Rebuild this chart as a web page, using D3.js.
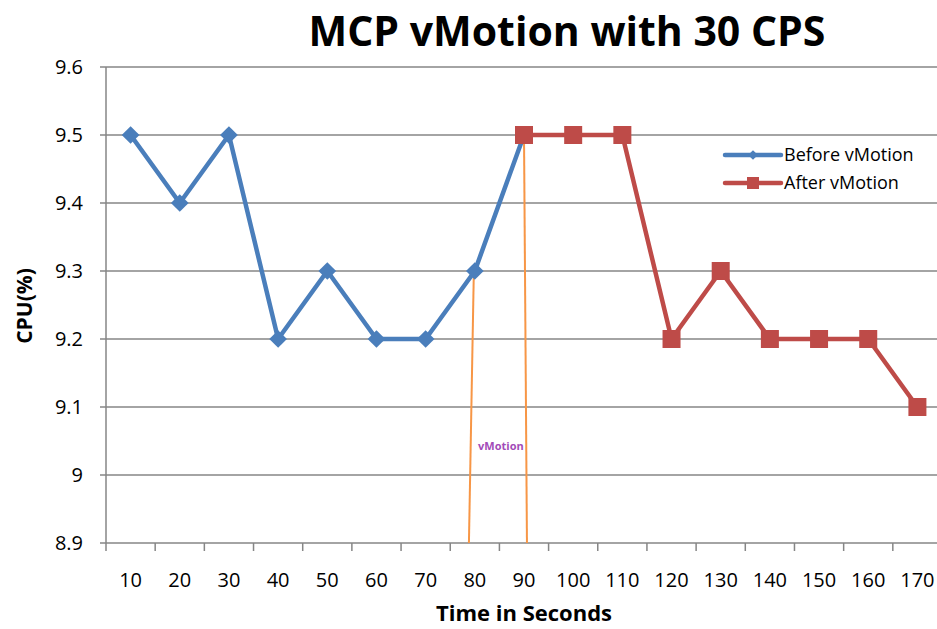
<!DOCTYPE html>
<html>
<head>
<meta charset="utf-8">
<script src="https://cdn.jsdelivr.net/npm/d3@7"></script>
<style>
  body { margin: 0; background: #fff; }
  text { font-family: "Open Sans", "Noto Sans", sans-serif; }
</style>
</head>
<body>
<svg id="chart" width="937" height="629"></svg>
<script>
// data
var seconds = [10, 20, 30, 40, 50, 60, 70, 80, 90, 100, 110, 120, 130, 140, 150, 160, 170];
var beforeSecs = [10, 20, 30, 40, 50, 60, 70, 80, 90];
var beforeCpu = [9.5, 9.4, 9.5, 9.2, 9.3, 9.2, 9.2, 9.3, 9.5];
var afterSecs = [90, 100, 110, 120, 130, 140, 150, 160, 170];
var afterCpu = [9.5, 9.5, 9.5, 9.2, 9.3, 9.2, 9.2, 9.2, 9.1];
var yTicks = [8.9, 9, 9.1, 9.2, 9.3, 9.4, 9.5, 9.6];
// hand drawn vMotion markers: [x bottom, cpu bottom, x top, cpu top]
var vmLines = [[78.8, 8.9, 79.8, 9.3], [90.6, 8.9, 90, 9.5]];

var svg = d3.select("#chart");
var x = d3.scaleLinear().domain([5, 175]).range([106, 942]);
var y = d3.scaleLinear().domain([8.9, 9.6]).range([543, 67]);
var gray = "#868686";

// gridlines
svg.append("g").selectAll("line")
  .data(yTicks).enter().append("line")
  .attr("x1", 100).attr("x2", 937)
  .attr("y1", function(d) { return y(d); })
  .attr("y2", function(d) { return y(d); })
  .style("stroke", gray).style("stroke-width", 1.5);

// y axis line
svg.append("line")
  .attr("x1", x(5)).attr("x2", x(5)).attr("y1", y(9.6)).attr("y2", y(8.9))
  .style("stroke", gray).style("stroke-width", 1.5);

// x axis ticks at category boundaries
var bounds = seconds.map(function(s) { return s - 5; }).concat([175]);
svg.append("g").selectAll("line")
  .data(bounds).enter().append("line")
  .attr("x1", function(d) { return x(d); })
  .attr("x2", function(d) { return x(d); })
  .attr("y1", 543).attr("y2", 551)
  .style("stroke", gray).style("stroke-width", 1.5);

// tick labels
svg.append("g").selectAll("text")
  .data(yTicks).enter().append("text")
  .attr("x", 83).attr("y", function(d) { return y(d) + 7; })
  .attr("text-anchor", "end")
  .style("font-size", "20px")
  .text(function(d) { return d3.format("")(d); });

svg.append("g").selectAll("text")
  .data(seconds).enter().append("text")
  .attr("x", function(d) { return x(d); }).attr("y", 587)
  .attr("text-anchor", "middle")
  .style("font-size", "20px")
  .text(function(d) { return d; });

// axis titles
svg.append("text")
  .attr("transform", "translate(32,306) rotate(-90)")
  .attr("text-anchor", "middle")
  .style("font-size", "21px").style("font-weight", "bold")
  .text("CPU(%)");
svg.append("text")
  .attr("x", 524).attr("y", 621)
  .attr("text-anchor", "middle")
  .style("font-size", "22px").style("font-weight", "bold")
  .text("Time in Seconds");

// chart title
svg.append("text")
  .attr("x", 567).attr("y", 46)
  .attr("text-anchor", "middle")
  .style("font-size", "41px").style("font-weight", "bold")
  .text("MCP vMotion with 30 CPS");

// vMotion markers
svg.append("g").selectAll("line")
  .data(vmLines).enter().append("line")
  .attr("x1", function(d) { return x(d[0]); })
  .attr("y1", function(d) { return y(d[1]); })
  .attr("x2", function(d) { return x(d[2]); })
  .attr("y2", function(d) { return y(d[3]); })
  .style("stroke", "#f79646").style("stroke-width", 2);
svg.append("text")
  .attr("x", x(85.3)).attr("y", 450)
  .attr("text-anchor", "middle")
  .style("font-size", "11px").style("font-weight", "bold")
  .style("fill", "#a24bb8")
  .text("vMotion");

var line = d3.line()
  .x(function(d) { return x(d[0]); })
  .y(function(d) { return y(d[1]); });

var before = d3.zip(beforeSecs, beforeCpu);
var after = d3.zip(afterSecs, afterCpu);

svg.append("path").datum(before)
  .attr("d", line)
  .style("fill", "none").style("stroke", "#4a7ebb").style("stroke-width", 4.5)
  .style("stroke-linejoin", "round");
svg.append("path").datum(after)
  .attr("d", line)
  .style("fill", "none").style("stroke", "#be4b48").style("stroke-width", 4.5)
  .style("stroke-linejoin", "round");

var diamond = d3.symbol().type(d3.symbolDiamond2).size(200);
svg.append("g").selectAll("path")
  .data(before).enter().append("path")
  .attr("d", diamond)
  .attr("transform", function(d) { return "translate(" + x(d[0]) + "," + y(d[1]) + ")"; })
  .style("fill", "#4a7ebb");

svg.append("g").selectAll("rect")
  .data(after).enter().append("rect")
  .attr("x", function(d) { return x(d[0]) - 9; })
  .attr("y", function(d) { return y(d[1]) - 9; })
  .attr("width", 18).attr("height", 18)
  .style("fill", "#be4b48");

// legend
var legend = svg.append("g");
legend.append("rect")
  .attr("x", 712).attr("y", 137).attr("width", 225).attr("height", 64)
  .style("fill", "#fff");
var items = [["Before vMotion", "#4a7ebb", "d"], ["After vMotion", "#be4b48", "s"]];
items.forEach(function(it, i) {
  var ly = 155 + i * 28;
  legend.append("line")
    .attr("x1", 725).attr("x2", 781).attr("y1", ly).attr("y2", ly)
    .style("stroke", it[1]).style("stroke-width", 4.5).style("stroke-linecap", "round");
  if (it[2] == "d") {
    legend.append("path")
      .attr("d", d3.symbol().type(d3.symbolDiamond2).size(60))
      .attr("transform", "translate(753," + ly + ")")
      .style("fill", it[1]);
  } else {
    legend.append("rect")
      .attr("x", 747).attr("y", ly - 6).attr("width", 12).attr("height", 12)
      .style("fill", it[1]);
  }
  legend.append("text")
    .attr("x", 784).attr("y", ly + 6)
    .style("font-size", "18px")
    .text(it[0]);
});
</script>
</body>
</html>
